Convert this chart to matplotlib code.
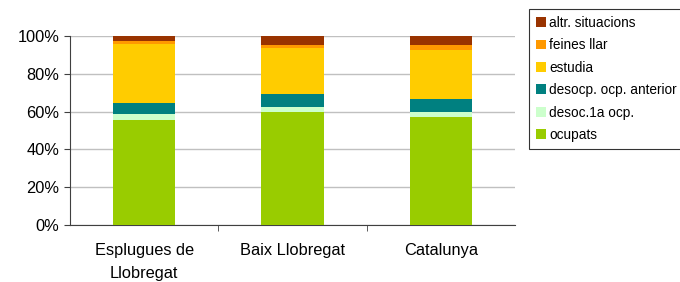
import numpy as np
import matplotlib.pyplot as plt
from matplotlib.ticker import PercentFormatter, FixedLocator

plt.rcParams['font.family'] = ['Liberation Sans', 'DejaVu Sans']

# --- Data (percent of population) ---
categories = ["Esplugues de\nLlobregat", "Baix Llobregat", "Catalunya"]
series_names = ["ocupats", "desoc.1a ocp.", "desocp. ocp. anterior", "estudia", "feines llar", "altr. situacions"]
ocupats = [55.5, 59.6, 57.3]
desoc_1a = [3.0, 2.6, 2.3]
desoc_anterior = [5.8, 6.9, 7.0]
estudia = [31.5, 24.7, 25.9]
feines_llar = [1.7, 1.4, 2.6]
altr_situacions = [2.5, 4.8, 4.9]
colors = ["#99CC00", "#CCFFCC", "#008080", "#FFCC00", "#FF9900", "#993300"]

series = [ocupats, desoc_1a, desoc_anterior, estudia, feines_llar, altr_situacions]

fig = plt.figure(figsize=(6.8, 2.82), dpi=100)
ax = fig.add_axes([70 / 680, 57 / 282, 445 / 680, 189 / 282])

x = np.arange(len(categories))
bottom = np.zeros(len(categories))
handles = []
for vals, name, col in zip(series, series_names, colors):
    b = ax.bar(x, vals, width=0.42, bottom=bottom, color=col, label=name, zorder=3)
    handles.append(b)
    bottom += np.array(vals)

ax.set_ylim(0, 100)
ax.set_xlim(-0.5, len(categories) - 0.5)
ax.yaxis.set_major_locator(FixedLocator([0, 20, 40, 60, 80, 100]))
ax.yaxis.set_major_formatter(PercentFormatter(decimals=0))
ax.grid(axis='y', color='#C0C0C0', linewidth=1, zorder=0)

ax.set_xticks(x)
ax.set_xticklabels(categories, fontsize=11.8, linespacing=1.65)
ax.tick_params(axis='x', which='major', length=0, pad=13)
ax.set_xticks([0.5, 1.5], minor=True)
ax.tick_params(axis='x', which='minor', length=4, direction='out', color='#404040')
ax.tick_params(axis='y', labelsize=11.8, length=4, color='#404040')

for s in ['top', 'right']:
    ax.spines[s].set_visible(False)
ax.spines['left'].set_color('#404040')
ax.spines['bottom'].set_color('#404040')

leg = fig.legend(handles[::-1], series_names[::-1], loc='upper left',
                 bbox_to_anchor=(529 / 680, 1 - 9 / 282), frameon=True,
                 fancybox=False, edgecolor='#000000', fontsize=9.8,
                 handlelength=0.75, handleheight=0.75, handletextpad=0.25,
                 labelspacing=0.62, borderpad=0.5, borderaxespad=0)
leg.get_frame().set_linewidth(0.8)

fig.savefig("out.png", dpi=100)
